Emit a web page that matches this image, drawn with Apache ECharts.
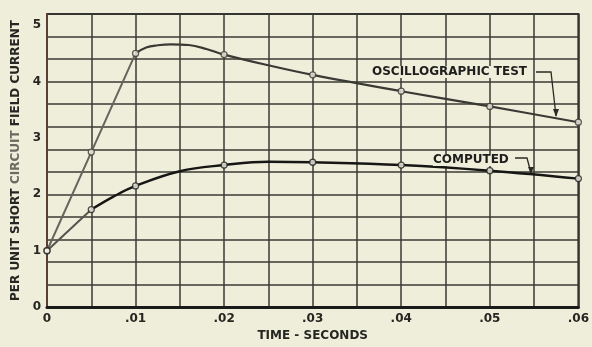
<!DOCTYPE html>
<html>
<head>
<meta charset="utf-8">
<script src="https://cdn.jsdelivr.net/npm/echarts@6/dist/echarts.min.js"></script>
<style>
html,body{margin:0;padding:0;background:#efeedb;}
#c{width:592px;height:347px;}
</style>
</head>
<body>
<div id="c"></div>
<script>
// Data (time in seconds, per-unit current)
const testMarkT = [0, 0.005, 0.01, 0.02, 0.03, 0.04, 0.05, 0.06];
const testMarkV = [1.0, 2.75, 4.5, 4.48, 4.12, 3.83, 3.56, 3.28];
const testRiseT = [0, 0.005, 0.01];
const testRiseV = [1.0, 2.75, 4.5];
const testCurveT = [0.01, 0.0112, 0.0125, 0.014, 0.016, 0.018, 0.02, 0.025, 0.03, 0.04, 0.05, 0.06];
const testCurveV = [4.5, 4.605, 4.645, 4.662, 4.65, 4.58, 4.48, 4.29, 4.12, 3.83, 3.56, 3.28];

const compMarkT = [0, 0.005, 0.01, 0.02, 0.03, 0.04, 0.05, 0.06];
const compMarkV = [1.0, 1.73, 2.15, 2.52, 2.57, 2.52, 2.42, 2.28];
const compRiseT = [0, 0.005];
const compRiseV = [1.0, 1.73];
const compCurveT = [0.005, 0.0075, 0.01, 0.015, 0.02, 0.025, 0.03, 0.04, 0.05, 0.06];
const compCurveV = [1.73, 1.96, 2.15, 2.41, 2.52, 2.58, 2.57, 2.52, 2.42, 2.28];

const xTickLabels = ['0', '.01', '.02', '.03', '.04', '.05', '.06'];
const yTickLabels = ['0', '1', '2', '3', '4', '5'];

const zip = (a, b) => a.map((v, i) => [v, b[i]]);

const FONT = 'DejaVu Sans';
const chart = echarts.init(document.getElementById('c'));
const gridColor = '#3a3a35';

chart.setOption({
  backgroundColor: '#efeedb',
  animation: false,
  grid: { left: 47, right: 5, top: 14, bottom: 37, show: true, borderColor: '#2e2e2a', borderWidth: 2, backgroundColor: 'transparent' },
  xAxis: {
    type: 'value', min: 0, max: 0.06, interval: 0.005,
    axisLine: { show: true, onZero: false, lineStyle: { color: '#1a1a18', width: 3 } },
    axisTick: { show: false },
    splitLine: { show: true, lineStyle: { color: gridColor, width: 1.5 } },
    axisLabel: {
      margin: 6, color: '#262622', fontFamily: FONT, fontWeight: 'bold', fontSize: 12,
      showMaxLabel: true,
      formatter: v => {
        const k = Math.round(v * 1000);
        if (k % 10 !== 0) return '';
        return xTickLabels[k / 10];
      }
    },
    name: 'TIME - SECONDS', nameLocation: 'middle', nameGap: 21,
    nameTextStyle: { color: '#262622', fontFamily: FONT, fontWeight: 'bold', fontSize: 12 }
  },
  yAxis: [{
    type: 'value', min: 0, max: 5.2, interval: 0.4,
    axisLine: { show: true, lineStyle: { color: '#5a3f34', width: 2 } },
    axisTick: { show: false },
    axisLabel: { show: false },
    splitLine: { show: true, lineStyle: { color: gridColor, width: 1.5 } },
    name: '{a|PER UNIT SHORT }{b|CIRCUIT}{a| FIELD CURRENT}',
    nameLocation: 'middle', nameGap: 25, nameRotate: 90,
    nameTextStyle: {
      rich: {
        a: { color: '#262622', fontFamily: FONT, fontWeight: 'bold', fontSize: 12 },
        b: { color: '#6b6b62', fontFamily: FONT, fontWeight: 'bold', fontSize: 12 }
      }
    }
  }, {
    type: 'value', min: 0, max: 5.2, interval: 1, position: 'left',
    axisLine: { show: false }, axisTick: { show: false }, splitLine: { show: false },
    axisLabel: {
      margin: 6, color: '#262622', fontFamily: FONT, fontWeight: 'bold', fontSize: 12,
      formatter: v => (Math.abs(v - Math.round(v)) < 1e-6 ? yTickLabels[Math.round(v)] : '')
    }
  }],
  series: [
    { type: 'line', data: zip(testRiseT, testRiseV), showSymbol: false, symbol: 'none',
      lineStyle: { color: '#65655d', width: 2 }, z: 3 },
    { type: 'line', data: zip(testCurveT, testCurveV), smooth: 0.4, showSymbol: false, symbol: 'none',
      lineStyle: { color: '#3a3a34', width: 2.2 }, z: 3 },
    { type: 'line', data: zip(compRiseT, compRiseV), showSymbol: false, symbol: 'none',
      lineStyle: { color: '#55554e', width: 2 }, z: 3 },
    { type: 'line', data: zip(compCurveT, compCurveV), smooth: 0.4, showSymbol: false, symbol: 'none',
      lineStyle: { color: '#161614', width: 2.4 }, z: 3 },
    { type: 'scatter', data: zip(testMarkT, testMarkV), symbol: 'circle', symbolSize: 6,
      itemStyle: { color: '#f4f3e6', borderColor: '#3a3a34', borderWidth: 1.3 }, z: 5 },
    { type: 'scatter', data: zip(compMarkT, compMarkV), symbol: 'circle', symbolSize: 6,
      itemStyle: { color: '#f4f3e6', borderColor: '#222220', borderWidth: 1.3 }, z: 5 }
  ],
  graphic: [
    { type: 'text', left: 372, top: 66, z: 10,
      style: { text: 'OSCILLOGRAPHIC TEST', font: 'bold 12px "DejaVu Sans"', fill: '#1e1e1c', backgroundColor: '#efeedb' } },
    { type: 'polyline', z: 10, shape: { points: [[536, 72], [551, 72], [556, 116]] },
      style: { stroke: '#2a2a26', lineWidth: 1.3, fill: null } },
    { type: 'polygon', z: 10, shape: { points: [[553, 109], [559, 109], [556, 117]] },
      style: { fill: '#2a2a26' } },
    { type: 'text', left: 433, top: 154, z: 10,
      style: { text: 'COMPUTED', font: 'bold 12px "DejaVu Sans"', fill: '#1e1e1c', backgroundColor: '#efeedb' } },
    { type: 'polyline', z: 10, shape: { points: [[515, 158], [527, 158], [531, 173]] },
      style: { stroke: '#2a2a26', lineWidth: 1.3, fill: null } },
    { type: 'polygon', z: 10, shape: { points: [[528, 167], [534, 167], [531, 174]] },
      style: { fill: '#2a2a26' } }
  ]
});
</script>
</body>
</html>
